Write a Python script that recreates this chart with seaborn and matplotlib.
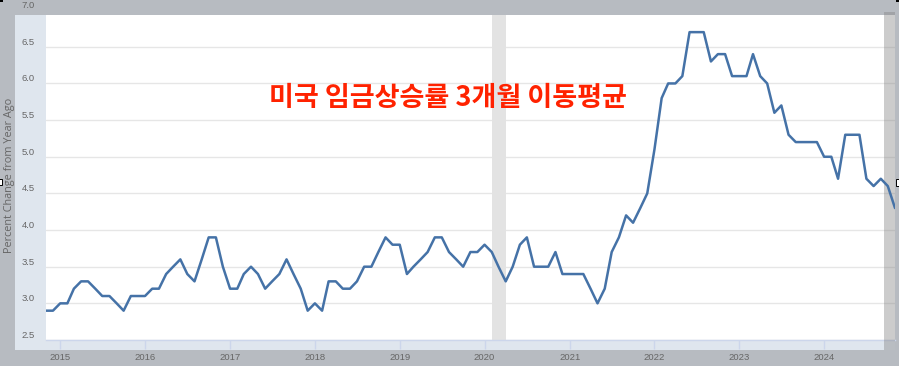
import numpy as np
import pandas as pd
import matplotlib
matplotlib.use("Agg")
import matplotlib.pyplot as plt
import matplotlib.transforms as mtransforms
from matplotlib.patches import Rectangle
from matplotlib import font_manager as fm
import seaborn as sns

# ---------------- data (monthly, Nov 2014 .. Nov 2024) ----------------
start_month = "2014-11-01"
v2014 = [2.9, 2.9]
v2015 = [3.0, 3.0, 3.2, 3.3, 3.3, 3.2, 3.1, 3.1, 3.0, 2.9, 3.1, 3.1]
v2016 = [3.1, 3.2, 3.2, 3.4, 3.5, 3.6, 3.4, 3.3, 3.6, 3.9, 3.9, 3.5]
v2017 = [3.2, 3.2, 3.4, 3.5, 3.4, 3.2, 3.3, 3.4, 3.6, 3.4, 3.2, 2.9]
v2018 = [3.0, 2.9, 3.3, 3.3, 3.2, 3.2, 3.3, 3.5, 3.5, 3.7, 3.9, 3.8]
v2019 = [3.8, 3.4, 3.5, 3.6, 3.7, 3.9, 3.9, 3.7, 3.6, 3.5, 3.7, 3.7]
v2020 = [3.8, 3.7, 3.5, 3.3, 3.5, 3.8, 3.9, 3.5, 3.5, 3.5, 3.7, 3.4]
v2021 = [3.4, 3.4, 3.4, 3.2, 3.0, 3.2, 3.7, 3.9, 4.2, 4.1, 4.3, 4.5]
v2022 = [5.1, 5.8, 6.0, 6.0, 6.1, 6.7, 6.7, 6.7, 6.3, 6.4, 6.4, 6.1]
v2023 = [6.1, 6.1, 6.4, 6.1, 6.0, 5.6, 5.7, 5.3, 5.2, 5.2, 5.2, 5.2]
v2024 = [5.0, 5.0, 4.7, 5.3, 5.3, 5.3, 4.7, 4.6, 4.7, 4.6, 4.3]

values = v2014 + v2015 + v2016 + v2017 + v2018 + v2019 + v2020 + v2021 + v2022 + v2023 + v2024
dates = pd.date_range(start_month, periods=len(values), freq="MS")
df = pd.DataFrame({"date": dates, "value": values})

recession = ("2020-02-01", "2020-04-01")
year_ticks = list(range(2015, 2025))
y_ticks = [2.5, 3.0, 3.5, 4.0, 4.5, 5.0, 5.5, 6.0, 6.5]
y_label = "Percent Change from Year Ago"
title = "미국 임금상승률 3개월 이동평균"

# ---------------- style ----------------
sns.set_theme(style="white")
plt.rcParams["font.family"] = ["Open Sans", "DejaVu Sans"]

try:
    fm.findfont("Liberation Sans Narrow", fallback_to_default=False)
    tick_family = ["Liberation Sans Narrow", "Liberation Sans", "DejaVu Sans"]
    tick_size = 7.5
except Exception:
    tick_family = ["Liberation Sans", "DejaVu Sans"]
    tick_size = 6.8

W, H = 899, 366
OUTER = "#b7bbc1"
PANEL = "#dfe6ee"
TXT = "#666666"
LINE = "#4572a7"

fig = plt.figure(figsize=(W / 100, H / 100), dpi=100, facecolor=OUTER)


def fx(px):
    return px / W


def fy(py):
    return 1 - py / H


# light panel behind plot
fig.add_artist(Rectangle((fx(15), fy(350)), (895 - 15) / W, (350 - 15) / H,
                         transform=fig.transFigure, facecolor=PANEL,
                         edgecolor="none", zorder=-2))

ax_l, ax_r, ax_t, ax_b = 46, 895, 15, 340
ax = fig.add_axes([fx(ax_l), fy(ax_b), (ax_r - ax_l) / W, (ax_b - ax_t) / H])
ax.set_facecolor("white")

sns.lineplot(data=df, x="date", y="value", color=LINE, linewidth=1.8, ax=ax, zorder=4)

ax.axvspan(pd.Timestamp(recession[0]), pd.Timestamp(recession[1]),
           color="#e3e3e3", lw=0, zorder=1)

x0 = pd.Timestamp(start_month)
x1 = dates[-1]
ax.set_xlim(x0, x1)
ymax = 2.5 + (ax_b - ax_t) / 73.3
ax.set_ylim(2.5, ymax)

ax.set_xticks([pd.Timestamp(f"{y}-01-01") for y in year_ticks])
ax.set_xticklabels([str(y) for y in year_ticks])
ax.set_yticks(y_ticks)
ax.set_yticklabels([f"{t:.1f}" for t in y_ticks])
ax.set_xlabel("")
ax.set_ylabel("")

ax.set_axisbelow(True)
ax.grid(axis="y", color="#e6e6e6", linewidth=1)
ax.grid(axis="x", visible=False)
for s in ["top", "right", "left"]:
    ax.spines[s].set_visible(False)
ax.spines["bottom"].set_color("#ccd6eb")
ax.spines["bottom"].set_linewidth(1)

ax.tick_params(axis="x", length=6.8, width=1, color="#ccd6eb", pad=2.5,
               labelsize=tick_size, labelcolor=TXT, bottom=True)
ax.tick_params(axis="y", length=0, pad=8, labelsize=tick_size, labelcolor=TXT)
for lab in ax.get_xticklabels() + ax.get_yticklabels():
    lab.set_family(tick_family)
off = mtransforms.ScaledTranslation(0, 5.5 / 100, fig.dpi_scale_trans)
for lab in ax.get_yticklabels():
    lab.set_transform(lab.get_transform() + off)

# the 7.0 label sits above the visible plot top
fig.text(fx(35), fy(5.5), "7.0", ha="right", va="center", fontsize=tick_size,
         color=TXT, family=tick_family)

# grey overlay at the right edge (selection shade), below the line
ax.add_patch(Rectangle(((884 - ax_l) / (ax_r - ax_l), -10 / (ax_b - ax_t)),
                       (ax_r - 884) / (ax_r - ax_l), (ax_b - ax_t + 13) / (ax_b - ax_t),
                       transform=ax.transAxes, facecolor="#808080", alpha=0.4,
                       edgecolor="none", zorder=3, clip_on=False))

# y-axis title
fig.text(fx(10), fy(175), y_label, rotation=90, ha="center", va="center",
         fontsize=7.8, color=TXT, family=["Open Sans", "DejaVu Sans"])

# Korean headline
fig.text(fx(447.5), fy(98), title, ha="center", va="center", fontsize=19.5,
         fontweight="black", color="#ff2200",
         family=["Noto Sans CJK KR", "DejaVu Sans"], zorder=10)

# tiny selection handles of the screenshot
for (hx, hy, hw, hh) in [(-1, 179, 3, 6), (896, 179, 4, 7)]:
    fig.add_artist(Rectangle((fx(hx), fy(hy + hh)), hw / W, hh / H,
                             transform=fig.transFigure, facecolor="white",
                             edgecolor="black", linewidth=0.7, zorder=20))
for (hx, hy, hw, hh) in [(0, 0, 3, 2), (896, 0, 3, 2)]:
    fig.add_artist(Rectangle((fx(hx), fy(hy + hh)), hw / W, hh / H,
                             transform=fig.transFigure, facecolor="black",
                             edgecolor="none", zorder=20))

fig.savefig("out.png", dpi=100, facecolor=OUTER)
